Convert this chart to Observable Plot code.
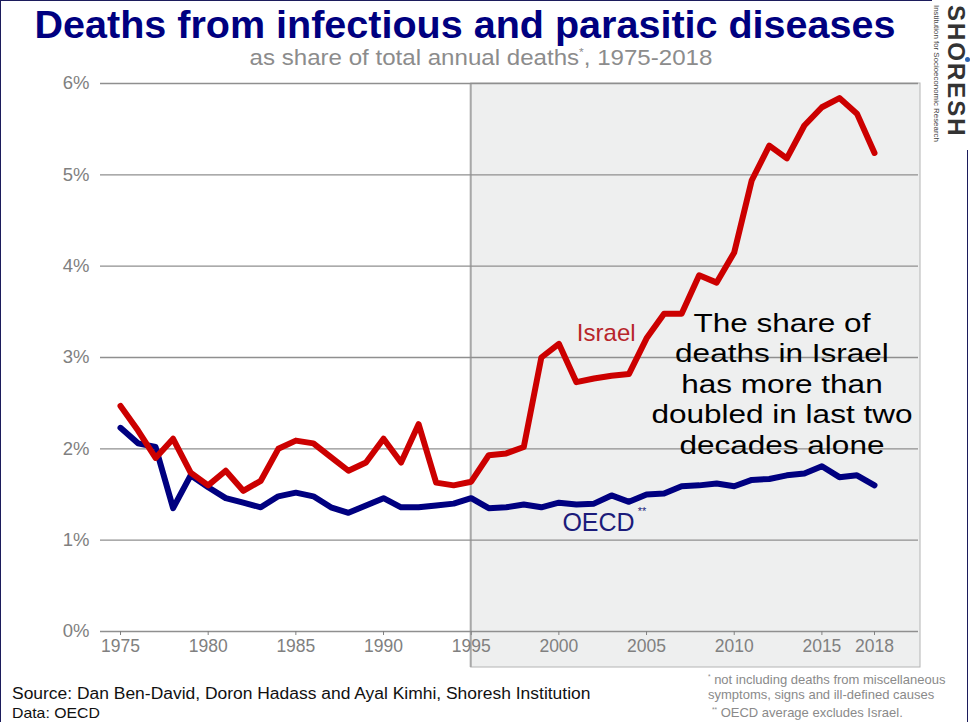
<!DOCTYPE html>
<html>
<head>
<meta charset="utf-8">
<script src="https://cdn.jsdelivr.net/npm/d3@7"></script>
<script src="https://cdn.jsdelivr.net/npm/@observablehq/plot@0.6"></script>
<style>
  body { margin: 0; background: #fff; }
  #page { position: relative; width: 973px; height: 722px; overflow: hidden; background: #fff;
          font-family: Arial, "Liberation Sans", sans-serif; }
  #chart { position: absolute; left: 0; top: 0; }
  .abs { position: absolute; white-space: nowrap; line-height: 1; }
  #title { left: 0; width: 930px; top: 6px; text-align: center; font-weight: bold; font-size: 38px; color: #000080;
           transform: scaleX(1.04); transform-origin: 465px 0; }
  #subtitle { left: 0; width: 962px; top: 47px; text-align: center; font-size: 22px; color: #8c8c8c;
              transform: scaleX(1.095); transform-origin: 481px 0; }
  #subtitle sup, .note sup { font-size: 0.5em; vertical-align: 0.8em; }
  #source { left: 12px; top: 686px; font-size: 16px; color: #111; transform: scaleX(1.09); transform-origin: 0 0; }
  #data { left: 12px; top: 706px; font-size: 14.5px; color: #111; transform: scaleX(1.09); transform-origin: 0 0; }
  .note { left: 708px; font-size: 13px; color: #8a8a8a; }
  #brand { left: 944px; top: 5px; writing-mode: vertical-rl; font-weight: bold; font-size: 24px;
           letter-spacing: 2px; color: #333; }
  #brandSub { left: 932px; top: 5px; writing-mode: vertical-rl; font-size: 7.9px; color: #444; }
  #dot { left: 965px; top: 57px; width: 5px; height: 5px; border-radius: 50%; background: #2a62b0; }
  .border { position: absolute; background: #1c1c5c; }
</style>
</head>
<body>
<div id="page">
  <div id="chart"></div>
  <div class="border" style="left:0;top:0;width:1px;height:722px"></div>
  <div class="border" style="left:0;top:0;width:932px;height:1px"></div>
  <div class="border" style="left:967px;top:150px;width:1px;height:572px"></div>
  <div class="abs" id="title">Deaths from infectious and parasitic diseases</div>
  <div class="abs" id="subtitle">as share of total annual deaths<sup>*</sup>, 1975-2018</div>
  <div class="abs" id="brand">SHORESH</div>
  <div class="abs" id="brandSub">Institution for Socioeconomic Research</div>
  <div class="abs" id="dot"></div>
  <div class="abs" id="source">Source: Dan Ben-David, Doron Hadass and Ayal Kimhi, Shoresh Institution</div>
  <div class="abs" id="data">Data: OECD</div>
  <div class="abs note" style="top:673px"><sup>*</sup> not including deaths from miscellaneous</div>
  <div class="abs note" style="top:688px">symptoms, signs and ill-defined causes</div>
  <div class="abs note" style="top:706px;left:712px"><sup>**</sup> OECD average excludes Israel.</div>
</div>
<script>
// Years covered by the series
const years = [1975, 1976, 1977, 1978, 1979, 1980, 1981, 1982, 1983, 1984,
               1985, 1986, 1987, 1988, 1989, 1990, 1991, 1992, 1993, 1994,
               1995, 1996, 1997, 1998, 1999, 2000, 2001, 2002, 2003, 2004,
               2005, 2006, 2007, 2008, 2009, 2010, 2011, 2012, 2013, 2014,
               2015, 2016, 2017, 2018];

// Deaths from infectious and parasitic diseases, % of total annual deaths
const israel = [2.47, 2.20, 1.90, 2.11, 1.74, 1.60, 1.76, 1.54, 1.65, 2.00,
                2.09, 2.06, 1.91, 1.76, 1.85, 2.11, 1.85, 2.27, 1.63, 1.60,
                1.64, 1.93, 1.95, 2.02, 3.00, 3.15, 2.73, 2.77, 2.80, 2.82,
                3.21, 3.48, 3.48, 3.90, 3.82, 4.15, 4.94, 5.32, 5.18, 5.54,
                5.74, 5.84, 5.67, 5.24];

const oecd = [2.23, 2.06, 2.02, 1.35, 1.71, 1.58, 1.46, 1.41, 1.36, 1.48,
              1.52, 1.48, 1.36, 1.30, 1.38, 1.46, 1.36, 1.36, 1.38, 1.40,
              1.46, 1.35, 1.36, 1.39, 1.36, 1.41, 1.39, 1.40, 1.49, 1.42,
              1.50, 1.51, 1.59, 1.60, 1.62, 1.59, 1.66, 1.67, 1.71, 1.73,
              1.81, 1.69, 1.71, 1.60];

// Axis ticks
const xTicks = [1975, 1980, 1985, 1990, 1995, 2000, 2005, 2010, 2015, 2018];
const yTicks = [0, 1, 2, 3, 4, 5, 6];

// Start of the highlighted last-two-decades period
const highlightStart = 1995;

const annotationLines = ["The share of", "deaths in Israel", "has more than", "doubled in last two", "decades alone"];

const RED = "#cc0000";
const NAVY = "#000080";
const AXIS_GRAY = "#808080";

const rows = years.map((year, i) => ({year, israel: israel[i], oecd: oecd[i]}));

// Shaded panel from the highlight start to the right edge, reaching below the axis labels
const highlightPanel = (index, scales, values, dims) => {
  const x0 = scales.x(highlightStart);
  const top = dims.marginTop;
  const right = dims.width - dims.marginRight + 2;
  const bottom = dims.height - dims.marginBottom + 36;
  const g = d3.create("svg:g");
  g.append("rect")
    .attr("x", x0).attr("y", top)
    .attr("width", right - x0).attr("height", bottom - top)
    .attr("fill", "#eeefef").attr("stroke", "#b4b4b4").attr("stroke-width", 1);
  g.append("line")
    .attr("x1", x0).attr("x2", x0).attr("y1", top).attr("y2", bottom)
    .attr("stroke", "#a8a8a8").attr("stroke-width", 2);
  return g.node();
};

// Centered, slightly widened multi-line callout
const annotationMark = (index, scales) => {
  const cx = scales.x(2012.75);
  const cy = scales.y(2.71);
  const step = 30.4;
  const g = d3.create("svg:g")
    .attr("font-size", 26.5)
    .attr("fill", "#000")
    .attr("text-anchor", "middle");
  annotationLines.forEach((line, i) => {
    g.append("text")
      .attr("transform", `translate(${cx},${cy + (i - 2) * step}) scale(1.19,1)`)
      .attr("dy", "0.35em")
      .text(line);
  });
  return g.node();
};

const chart = Plot.plot({
  width: 973,
  height: 722,
  marginTop: 83,
  marginBottom: 91,
  marginLeft: 100,
  marginRight: 55,
  style: {fontFamily: "Arial, 'Liberation Sans', sans-serif", fontSize: "17.5px", color: AXIS_GRAY, background: "transparent"},
  x: {domain: [1975, 2018], insetLeft: 20, insetRight: 44, label: null},
  y: {domain: [0, 6], label: null},
  marks: [
    highlightPanel,
    Plot.ruleY(yTicks, {stroke: "#8f8f8f", strokeWidth: 1.4}),
    Plot.axisX({ticks: xTicks, tickFormat: d => `${d}`, tickSize: 4, tickPadding: 4,
                color: AXIS_GRAY, fontSize: 17.5, label: null}),
    Plot.axisY({ticks: yTicks, tickFormat: d => `${d}%`, tickSize: 0, tickPadding: 11,
                color: AXIS_GRAY, fontSize: 18.5, label: null}),
    Plot.lineY(rows, {x: "year", y: "oecd", stroke: NAVY, strokeWidth: 6, strokeLinejoin: "round"}),
    Plot.lineY(rows, {x: "year", y: "israel", stroke: RED, strokeWidth: 6, strokeLinejoin: "round"}),
    Plot.text(["Israel"], {x: 2002.7, y: 3.27, text: d => d, fill: "#b8262b", fontSize: 24}),
    Plot.text(["OECD"], {x: 2000.2, y: 1.19, text: d => d, fill: "#1b1b7a", fontSize: 25, textAnchor: "start"}),
    Plot.text(["**"], {x: 2004.5, y: 1.31, text: d => d, fill: "#1b1b7a", fontSize: 11, textAnchor: "start"}),
    annotationMark
  ]
});

document.getElementById("chart").appendChild(chart);
</script>
</body>
</html>
